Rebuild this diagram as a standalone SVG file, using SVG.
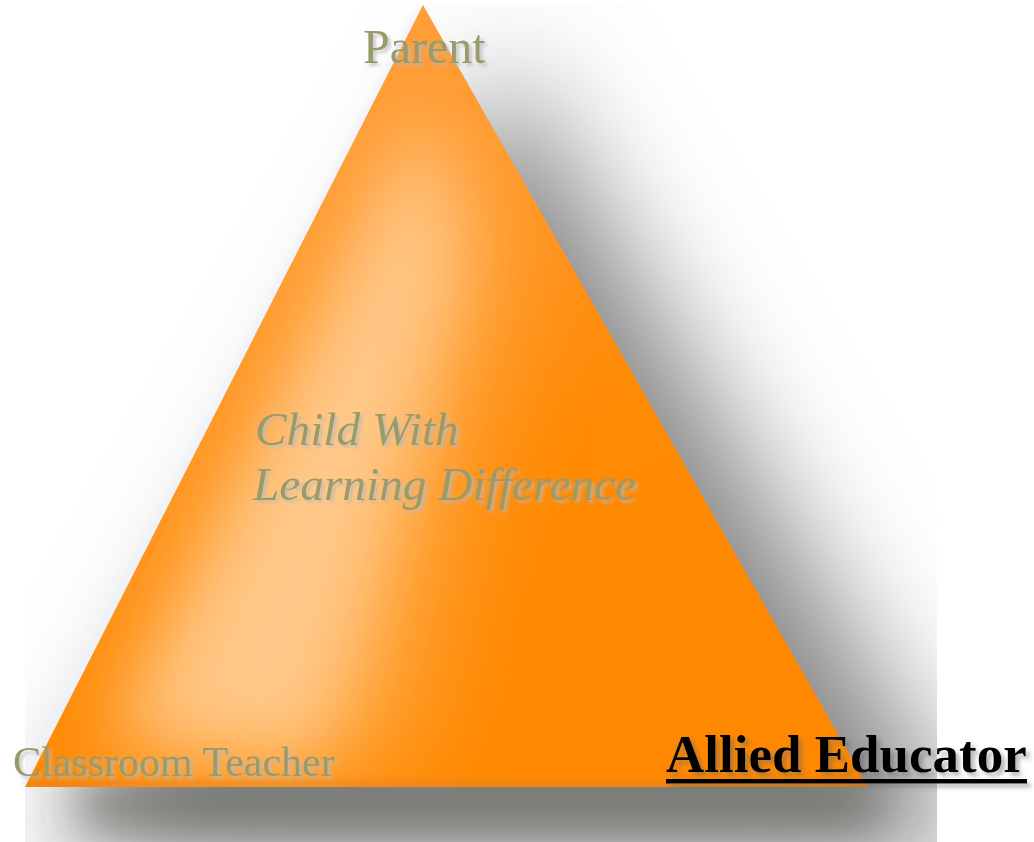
<svg xmlns="http://www.w3.org/2000/svg" width="1034" height="842" viewBox="0 0 1034 842">
  <style>
    .lbl { font-family: "Liberation Serif", "Times New Roman", serif; fill: #9a9b6b; }
    .ae { font-family: "Liberation Serif", "Times New Roman", serif; font-weight: bold; fill: #000000; }
  </style>
  <defs>
    <clipPath id="area"><rect x="25" y="4" width="912" height="838"/></clipPath>
    <clipPath id="tri"><polygon points="423,5 25,787 868,787"/></clipPath>
    <filter id="shadowBlur" filterUnits="userSpaceOnUse" x="-300" y="-300" width="1600" height="1500">
      <feGaussianBlur stdDeviation="60"/>
    </filter>
    <filter id="bandBlur" filterUnits="userSpaceOnUse" x="-300" y="-300" width="1600" height="1500">
      <feGaussianBlur stdDeviation="24"/>
    </filter>
    <filter id="hiBlur" filterUnits="userSpaceOnUse" x="-200" y="-200" width="1400" height="1300">
      <feGaussianBlur stdDeviation="34"/>
    </filter>
    <filter id="hiBlurWide" filterUnits="userSpaceOnUse" x="-200" y="-200" width="1400" height="1300">
      <feGaussianBlur stdDeviation="60"/>
    </filter>
    <filter id="edgeBlur" filterUnits="userSpaceOnUse" x="-100" y="-100" width="1200" height="1100">
      <feGaussianBlur stdDeviation="3"/>
    </filter>
    <filter id="txtShadow" x="-10%" y="-30%" width="130%" height="180%">
      <feDropShadow dx="3" dy="3" stdDeviation="1.5" flood-color="#b9b9b9" flood-opacity="0.7"/>
    </filter>
    <filter id="aeShadow" x="-10%" y="-30%" width="130%" height="180%">
      <feDropShadow dx="4" dy="4" stdDeviation="2" flood-color="#666666" flood-opacity="0.45"/>
    </filter>
    <linearGradient id="baseGrad" x1="0.3" y1="0" x2="0.75" y2="0.9">
      <stop offset="0" stop-color="#ffa040"/>
      <stop offset="0.65" stop-color="#ff8a04"/>
      <stop offset="1" stop-color="#ff8800"/>
    </linearGradient>
  </defs>

  <rect x="0" y="0" width="1034" height="842" fill="#ffffff"/>

  <g id="shadow" clip-path="url(#area)">
    <rect x="25" y="4" width="912" height="838" fill="#ffffff"/>
    <polygon points="505,60 50,860 985,860" fill="#858585" filter="url(#shadowBlur)"/>
    <rect x="80" y="790" width="800" height="30" fill="#55554d" opacity="0.85" filter="url(#bandBlur)"/>
  </g>

  <g id="triangle">
    <polyline points="421,8 22,787" fill="none" stroke="#eef2fa" stroke-width="7" filter="url(#edgeBlur)"/>
    <polygon points="423,5 25,787 868,787" fill="url(#baseGrad)"/>
    <g clip-path="url(#tri)">
      <polygon points="430,90 95,760 390,770 495,240" fill="#ffcf96" opacity="0.55" filter="url(#hiBlurWide)"/>
      <polygon points="428,110 120,740 320,760 455,260" fill="#ffd29c" opacity="0.75" filter="url(#hiBlur)"/>
      <rect x="25" y="780" width="850" height="8" fill="#e8821a" opacity="0.6" filter="url(#edgeBlur)"/>
    </g>
  </g>

  <g id="node-parent" filter="url(#txtShadow)">
    <text class="lbl" x="363" y="63" font-size="48">Parent</text>
  </g>

  <g id="node-child" filter="url(#txtShadow)">
    <text class="lbl" x="255" y="445" font-size="47.3" font-style="italic">Child With</text>
    <text class="lbl" x="253" y="500" font-size="47.3" font-style="italic">Learning Difference</text>
  </g>

  <g id="node-teacher" filter="url(#txtShadow)">
    <text class="lbl" x="13" y="776" font-size="42">Classroom Teacher</text>
  </g>

  <g id="node-allied" filter="url(#aeShadow)">
    <text class="ae" x="666" y="772" font-size="53">Allied Educator</text>
    <rect x="666" y="779" width="361" height="4.5" fill="#000000"/>
  </g>

  <g id="connectors"></g>
</svg>
